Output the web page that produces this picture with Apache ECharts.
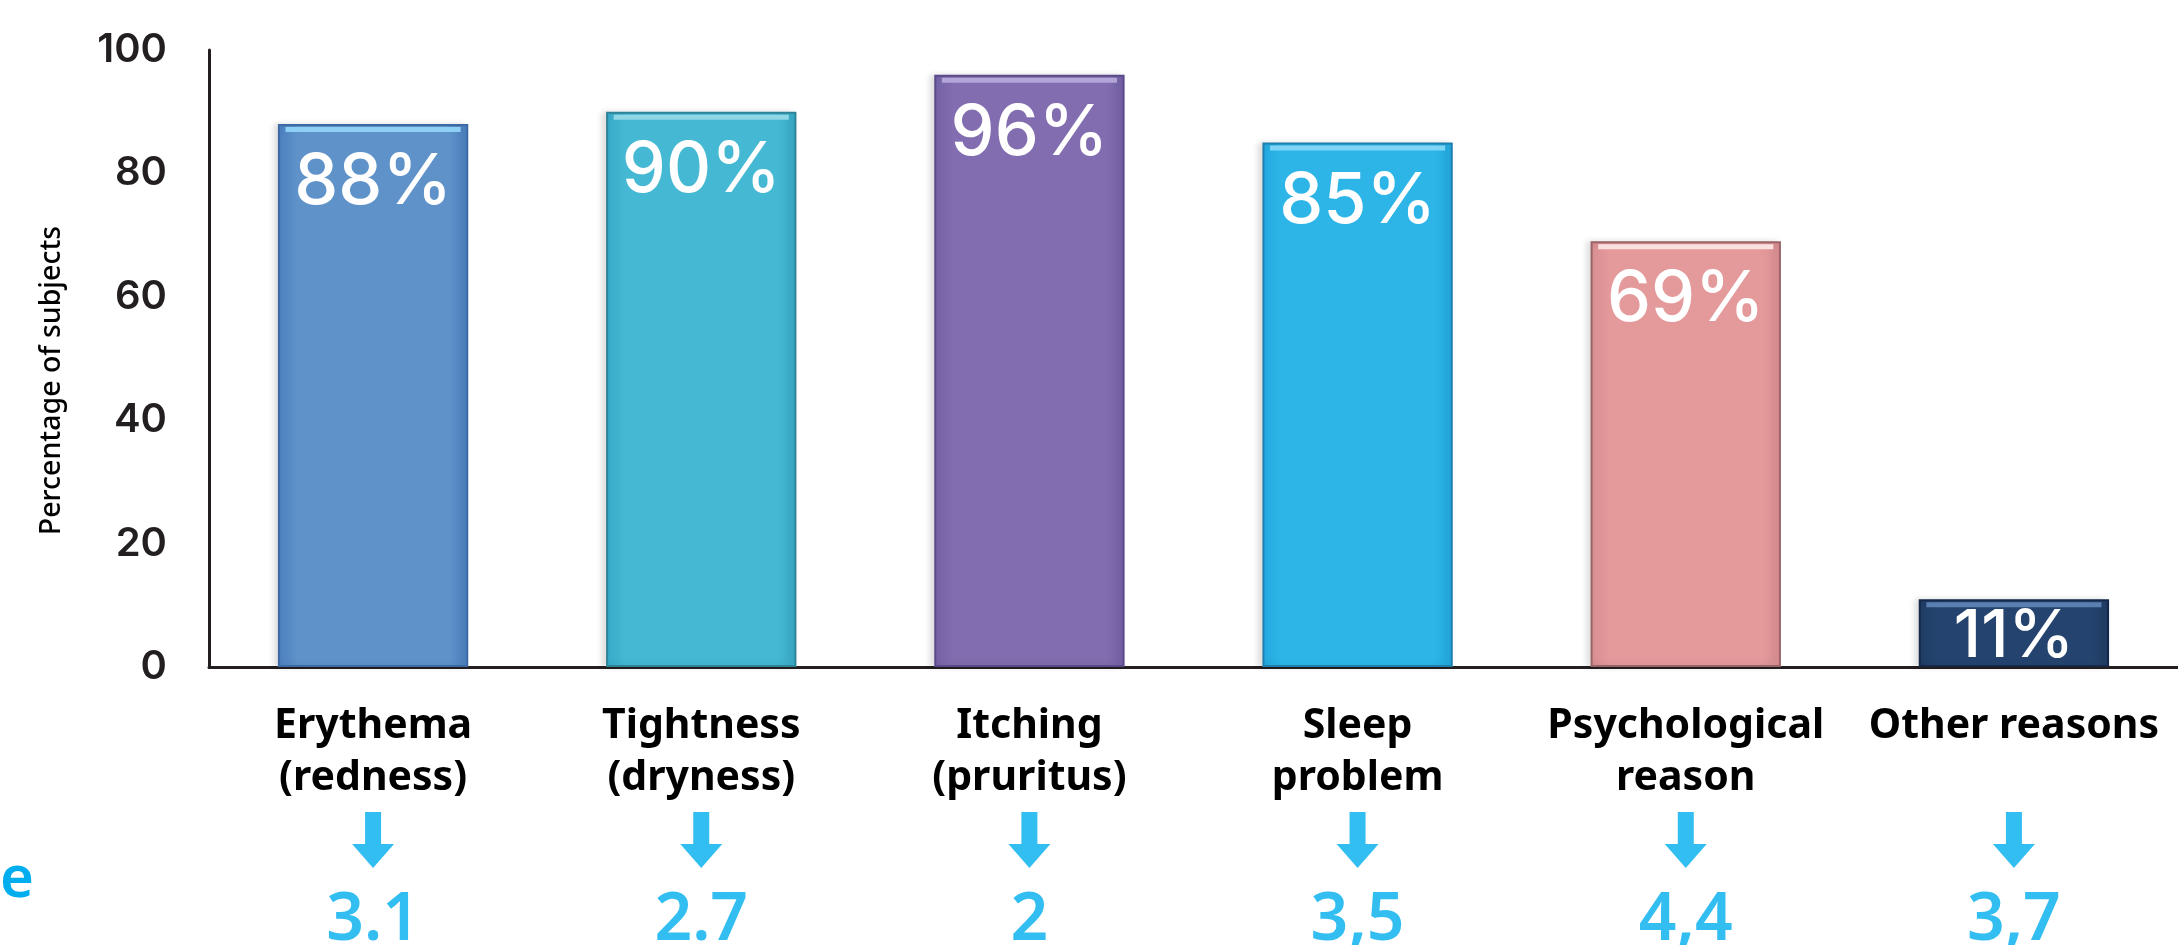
<!DOCTYPE html>
<html>
<head>
<meta charset="utf-8">
<script src="https://cdn.jsdelivr.net/npm/echarts@6/dist/echarts.min.js"></script>
<style>
  html, body { margin: 0; padding: 0; background: #ffffff; }
  #chart { width: 2178px; height: 945px; }
</style>
</head>
<body>
<div id="chart"></div>
<script>
// ---- data ----
const categories = ['Erythema\n(redness)', 'Tightness\n(dryness)', 'Itching\n(pruritus)', 'Sleep\nproblem', 'Psychological\nreason', 'Other reasons'];
const percentages = [88, 90, 96, 85, 69, 11];
const scores = ['3.1', '2.7', '2', '3,5', '4,4', '3,7'];
const yMin = 0, yMax = 100, yStep = 20;
const yAxisName = 'Percentage of subjects';
const cutWord = 'e';

// ---- styles ----
const barBase   = ['#5E92C9', '#45B8D3', '#816DAF', '#2DB5E8', '#E4999B', '#24446F'];
const barEdge   = ['#4A7EBF', '#36A9C6', '#7461A6', '#22A8DF', '#D88D90', '#1F3C63'];
const barBorder = ['#3C6AA5', '#2F8396', '#5B4A8A', '#1C7FB0', '#9A6466', '#15284A'];
const barTop    = ['#8DD0F3', '#8FD6E6', '#B3A5D8', '#7FD5F5', '#FBE0E0', '#5A7FB0'];
const blue = '#00AEEF';
const ink = '#231f20';

function grad(i) {
  return new echarts.graphic.LinearGradient(0, 0, 1, 0, [
    { offset: 0, color: barEdge[i] },
    { offset: 0.1, color: barBase[i] },
    { offset: 0.9, color: barBase[i] },
    { offset: 1, color: barEdge[i] }
  ]);
}

const barData = percentages.map((v, i) => ({
  value: v,
  itemStyle: { color: grad(i), borderColor: barBorder[i] },
  label: v < 20 ? { position: 'inside', distance: 0, offset: [0, 4], fontSize: 66 } : {}
}));
const topData = percentages.map((v, i) => ({
  value: v,
  itemStyle: { color: barTop[i] }
}));

const chart = echarts.init(document.getElementById('chart'), null, { renderer: 'canvas' });
chart.setOption({
  backgroundColor: '#ffffff',
  animation: false,
  title: {
    text: cutWord, left: 0, top: 851, padding: 0,
    textStyle: { color: blue, fontSize: 58, fontWeight: 600, fontFamily: 'Noto Sans' }
  },
  grid: [
    { left: 209, right: -8, top: 50, bottom: 278 },
    { left: 209, right: -8, top: 812, height: 56 }
  ],
  xAxis: [
    {
      type: 'category', data: categories, gridIndex: 0,
      axisLine: { lineStyle: { color: ink, width: 3 } },
      axisTick: { show: false },
      axisLabel: {
        interval: 0, margin: 33, color: '#000', fontSize: 41, fontWeight: 'bold',
        fontFamily: 'Noto Sans', lineHeight: 52
      }
    },
    { type: 'category', data: categories, gridIndex: 1, show: false }
  ],
  yAxis: [
    {
      type: 'value', min: yMin, max: yMax, interval: yStep, gridIndex: 0,
      axisLine: { show: true, lineStyle: { color: ink, width: 3 } },
      axisTick: { show: false },
      splitLine: { show: false },
      axisLabel: { margin: 42, color: ink, fontSize: 40, fontWeight: 600, fontFamily: 'Inter' },
      name: yAxisName, nameLocation: 'middle', nameGap: 143,
      nameTextStyle: { fontSize: 28.5, fontWeight: 500, color: '#000', fontFamily: 'Noto Sans', padding: [0, 44, 0, 0] }
    },
    { type: 'value', gridIndex: 1, min: 0, max: 1, show: false }
  ],
  series: [
    {
      type: 'bar', data: barData, barWidth: '58%',
      itemStyle: { borderWidth: 2, shadowColor: 'rgba(0,0,0,0.12)', shadowBlur: 6, shadowOffsetX: -4 },
      label: {
        show: true, position: 'insideTop', distance: 24, formatter: '{c}%',
        color: '#fff', fontSize: 70, fontWeight: 500, fontFamily: 'Inter'
      }
    },
    {
      type: 'pictorialBar', data: topData, barWidth: '58%', silent: true,
      symbol: 'rect', symbolSize: ['92%', 5], symbolPosition: 'end', symbolOffset: [0, 3],
      z: 3
    },
    {
      type: 'scatter', xAxisIndex: 1, yAxisIndex: 1, silent: true,
      data: categories.map((c, i) => [i, 0.5]),
      symbol: 'path://M13 0 L29 0 L29 32 L42 32 L21 56 L0 32 L13 32 Z',
      symbolSize: [42, 56],
      itemStyle: { color: blue },
      label: {
        show: true, position: 'bottom', distance: 20,
        formatter: p => scores[p.dataIndex],
        color: blue, fontSize: 66, fontWeight: 600, fontFamily: 'Noto Sans'
      }
    }
  ]
});
</script>
</body>
</html>
